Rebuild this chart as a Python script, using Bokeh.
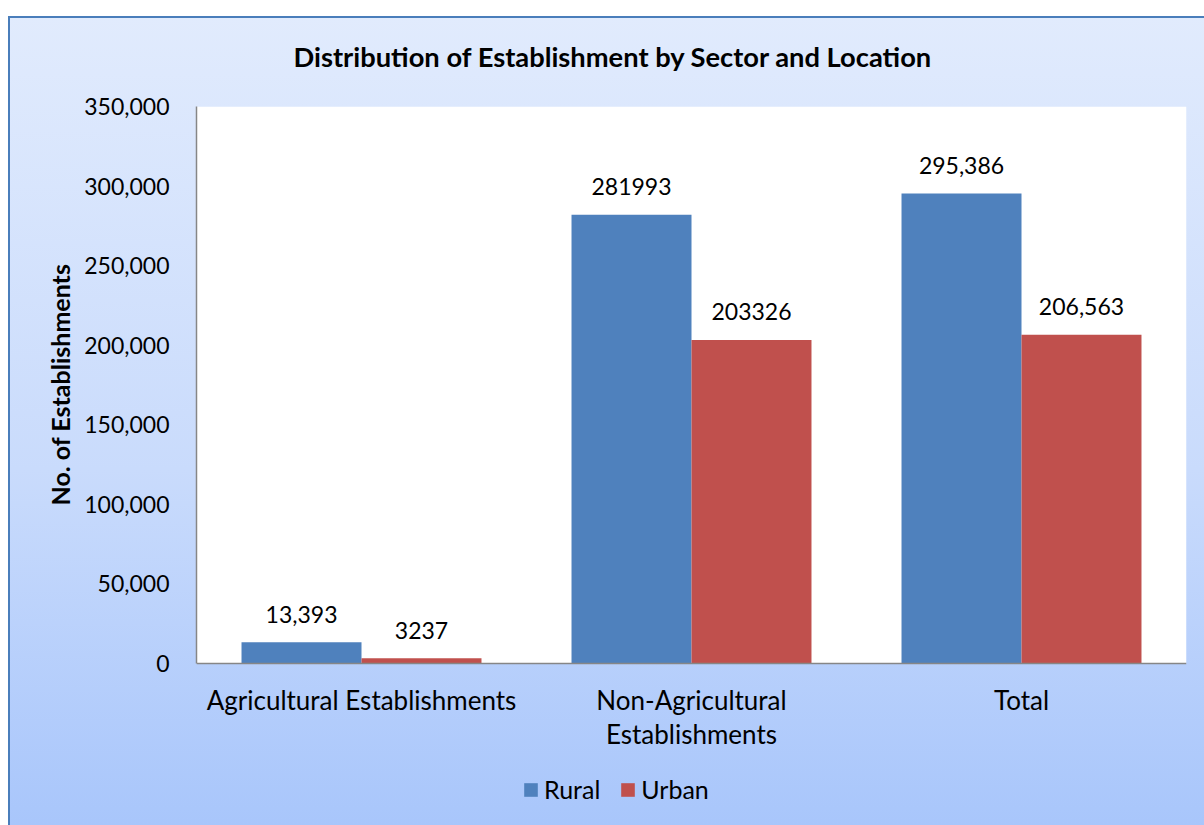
from bokeh.plotting import figure
from bokeh.models import (ColumnDataSource, Range1d, FixedTicker, NumeralTickFormatter,
                          Legend, LegendItem, Title, Span, BoxAnnotation)
from bokeh.transform import dodge
from bokeh.core.properties import value
from bokeh.embed import file_html
from bokeh.resources import INLINE

# ---- data ----
categories = ["Agricultural Establishments", "Non-Agricultural\nEstablishments", "Total"]
rural = [13393, 281993, 295386]
urban = [3237, 203326, 206563]
rural_labels = ["13,393", "281993", "295,386"]
urban_labels = ["3237", "203326", "206,563"]
y_ticks = [0, 50000, 100000, 150000, 200000, 250000, 300000, 350000]
y_max = 350000

FONT = "Lato"
RURAL_C = "#4f81bd"
URBAN_C = "#c0504d"

# layout (pixels): plot area top 106, zero line 663, figure bottom 825
Y_MIN = -y_max * (825 - 663) / (663 - 106)

idx = list(range(len(categories)))
src = ColumnDataSource(dict(x=idx, rural=rural, urban=urban,
                            rl=rural_labels, ul=urban_labels, cat=categories,
                            zero=[0] * len(idx)))

p = figure(width=1204, height=825, output_backend="svg", toolbar_location=None,
           x_range=Range1d(-0.5, 2.5), y_range=Range1d(Y_MIN, y_max),
           x_axis_location=None,
           min_border_left=196, min_border_top=106, min_border_right=18,
           min_border_bottom=0, title=None)

p.border_fill_alpha = 0
p.background_fill_alpha = 0
p.outline_line_color = None
p.styles = {
    "background": (
        "linear-gradient(#4a7ebb,#4a7ebb) 8px 16px / 2px 100% no-repeat,"
        "linear-gradient(#4a7ebb,#4a7ebb) 8px 16px / 100% 2px no-repeat,"
        "linear-gradient(to bottom,#e1ebfd,#c9dbfc 55%,#a7c5fb) 8px 16px / 100% 100% no-repeat,"
        "#ffffff"
    )
}

# white plot area + category axis line
p.add_layout(BoxAnnotation(bottom=0, top=y_max, fill_color="white", fill_alpha=1,
                           line_color=None, level="underlay"))
p.add_layout(Span(location=0, dimension="width", line_color="#868686", line_width=1.5))

w = 0.3636
r1 = p.vbar(x=dodge("x", -w / 2, range=p.x_range), top="rural", width=w, source=src,
            fill_color=RURAL_C, line_color=None)
r2 = p.vbar(x=dodge("x", w / 2, range=p.x_range), top="urban", width=w, source=src,
            fill_color=URBAN_C, line_color=None)

p.text(x=dodge("x", -w / 2, range=p.x_range), y="rural", text="rl", source=src,
       text_align="center", text_baseline="alphabetic", y_offset=-28,
       text_font=value(FONT), text_font_size="23px", text_color="black")
p.text(x=dodge("x", w / 2, range=p.x_range), y="urban", text="ul", source=src,
       text_align="center", text_baseline="alphabetic", y_offset=-28,
       text_font=value(FONT), text_font_size="23px", text_color="black")

# category labels
p.text(x="x", y="zero", text="cat", source=src, text_align="center",
       text_baseline="top", y_offset=20, text_line_height=1.08,
       text_font=value(FONT), text_font_size="26px", text_color="black")

# title
t = Title(text="Distribution of Establishment by Sector and Location", align="left",
          offset=97, text_font=FONT, text_font_size="27.3px", text_font_style="bold",
          text_color="black", standoff=67)
p.add_layout(t, "above")

p.xgrid.visible = False
p.ygrid.visible = False

ya = p.yaxis[0]
ya.ticker = FixedTicker(ticks=y_ticks)
ya.bounds = (0, y_max)
ya.formatter = NumeralTickFormatter(format="0,0")
ya.major_tick_line_color = None
ya.minor_tick_line_color = None
ya.axis_line_color = "#868686"
ya.axis_line_width = 1.5
ya.major_label_text_font = FONT
ya.major_label_text_font_size = "23px"
ya.major_label_text_color = "black"
ya.major_label_standoff = 21

ytitle = Title(text="No. of Establishments", align="left", offset=320,
               text_font=FONT, text_font_size="25px", text_font_style="bold",
               text_color="black", standoff=14)
p.add_layout(ytitle, "left")

legend = Legend(items=[LegendItem(label="Rural", renderers=[r1]),
                       LegendItem(label="Urban", renderers=[r2])],
                orientation="horizontal", location=(326, 21),
                glyph_width=17, glyph_height=17, label_height=17,
                label_standoff=5, spacing=19, padding=0, margin=0,
                label_text_font=FONT, label_text_font_size="25px",
                label_text_color="black", background_fill_alpha=0,
                border_line_color=None)
p.add_layout(legend, "center")

open("out.html", "w").write(file_html(p, INLINE))
